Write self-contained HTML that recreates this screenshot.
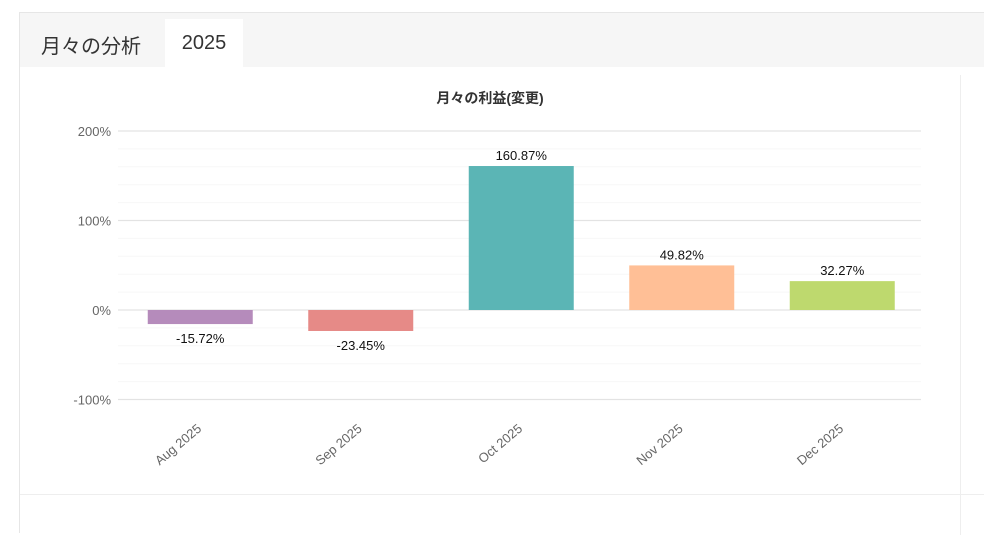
<!DOCTYPE html>
<html><head><meta charset="utf-8"><style>
body{margin:0;width:984px;height:525px;background:#fff;overflow:hidden;font-family:"Liberation Sans","Noto Sans CJK JP",sans-serif;position:relative}
#panel{position:absolute;left:19px;top:12px;width:980px;height:520px;border-left:1px solid #e6e6e6;border-top:1px solid #e6e6e6}
#hdr{position:absolute;left:0;top:0;width:980px;height:54px;background:#f6f6f6}
#title{position:absolute;left:21px;top:17px;font-size:20px;color:#333}
#tab{position:absolute;left:145px;top:6px;width:78px;height:48px;background:#fff;font-size:20px;color:#333;text-align:center;line-height:48px}
#vline{position:absolute;left:940px;top:62px;width:1px;height:460px;background:#eee}
#hline{position:absolute;left:0;top:481px;width:980px;height:1px;background:#eee}
svg{position:absolute;left:0;top:0}
</style></head><body>
<div id="panel">
<div id="hdr"></div>
<div id="title">月々の分析</div>
<div id="tab">2025</div>
<div id="vline"></div>
<div id="hline"></div>
</div>
<svg id="chart" width="984" height="525">
<text x="490" y="103" text-anchor="middle" font-size="14" font-weight="bold" fill="#333">月々の利益(変更)</text>
</svg>
<script>
const categories=["Aug 2025","Sep 2025","Oct 2025","Nov 2025","Dec 2025"];
const values=[-15.72,-23.45,160.87,49.82,32.27];
const colors=["#b58bbb","#e68a87","#5bb5b5","#ffbf96","#bed96e"];
const ticks=[-100,0,100,200];
const svg=document.getElementById('chart');
const NS="http://www.w3.org/2000/svg";
const gx0=118,gx1=921,bx0=120,bx1=922.5;
const y=v=>310-v*0.895;
const band=(bx1-bx0)/categories.length;
function mk(t,a){const e=document.createElementNS(NS,t);for(const k in a)e.setAttribute(k,a[k]);svg.appendChild(e);return e;}
for(let v=-100;v<=200;v+=20){
 const major=v%100===0;
 const l=mk('line',{x1:gx0,x2:gx1,y1:y(v),y2:y(v),stroke:major?'#e3e3e3':'#f7f7f7','stroke-width':major?1.2:1});
 
 
}
ticks.forEach(v=>{
 const t=mk('text',{x:111,y:y(v)+5,'text-anchor':'end','font-size':13,fill:'#666'});
 t.textContent=v+'%';
 
 
});
categories.forEach((c,i)=>{
 const cx=bx0+band*(i+0.5),v=values[i],bw=105;
 const top=Math.min(y(v),y(0)),h=Math.abs(y(v)-y(0));
 const r=mk('rect',{x:cx-bw/2,y:top,width:bw,height:h,fill:colors[i]});
 
 
 const lbl=mk('text',{x:cx,y:v>=0?y(v)-6:y(v)+19,'text-anchor':'middle','font-size':13,fill:'#111'});
 lbl.textContent=v.toFixed(2)+'%';
 
 
 const lx=cx+2,ly=430;
 const xl=mk('text',{x:lx,y:ly,'text-anchor':'end','font-size':13,fill:'#666',transform:`rotate(-40 ${lx} ${ly})`});
 xl.textContent=c;
 
 
});
</script>
</body></html>
